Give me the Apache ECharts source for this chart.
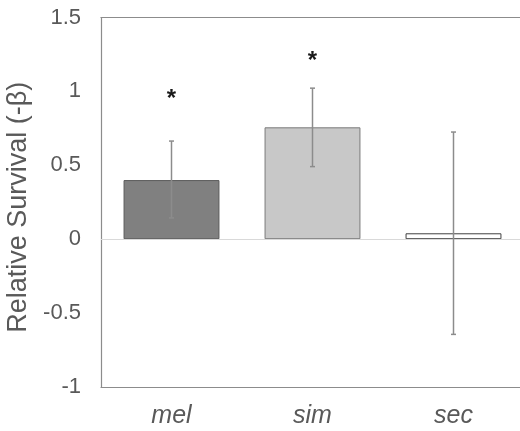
<!DOCTYPE html>
<html><head><meta charset="utf-8">
<script src="https://cdn.jsdelivr.net/npm/echarts@6/dist/echarts.min.js"></script>
<style>html,body{margin:0;padding:0;background:#fff;overflow:hidden}#c{width:520px;height:431px}</style>
</head><body><div id="c"></div>
<script>
var categories = ['mel', 'sim', 'sec'];
var values = [0.40, 0.757, 0.04];
var errLow = [0.144, 0.491, -0.644];
var errHigh = [0.664, 1.022, 0.725];
var starY = [0.97, 1.23, null];
var barColors = ['#808080', '#c8c8c8', '#ffffff'];
var barBorders = ['#5a5a5a', '#7a7a7a', '#404040'];
var yTicks = {min: -1, max: 1.5, interval: 0.5};

var chart = echarts.init(document.getElementById('c'));
var font = 'Liberation Sans, Arial, sans-serif';
var frame = {show: true, onZero: false, lineStyle: {color: '#8c8c8c', width: 1.2}};
chart.setOption({
  animation: false,
  grid: {left: 101, width: 423, top: 17.5, bottom: 44, containLabel: false, outerBoundsMode: 'none'},
  xAxis: [{
    type: 'category', data: categories, position: 'bottom',
    axisLine: frame,
    axisTick: {show: false},
    axisLabel: {fontFamily: font, fontSize: 25, fontStyle: 'italic', color: '#595959', margin: 17}
  }, {
    type: 'category', data: categories, position: 'top',
    axisLine: frame, axisTick: {show: false}, axisLabel: {show: false}
  }],
  yAxis: {
    type: 'value', min: yTicks.min, max: yTicks.max, interval: yTicks.interval,
    axisLine: frame, axisTick: {show: false}, splitLine: {show: false},
    axisLabel: {fontFamily: font, fontSize: 22, color: '#595959', margin: 20},
    name: 'Relative Survival (-\u03b2)', nameLocation: 'middle', nameGap: 57,
    nameTextStyle: {fontFamily: font, fontSize: 27, color: '#595959', padding: [0, 10, 0, 0]}
  },
  series: [
    {
      type: 'bar', barCategoryGap: '32%',
      data: values.map(function (v, i) {
        return {value: v, itemStyle: {color: barColors[i], borderColor: barBorders[i], borderWidth: 1}};
      }),
      markLine: {silent: true, symbol: 'none', label: {show: false},
        lineStyle: {color: '#d9d9d9', width: 1.2, type: 'solid'}, data: [{yAxis: 0}]},
      z: 2
    },
    {
      type: 'custom', z: 5,
      data: categories.map(function (c, i) { return [i, errLow[i], errHigh[i]]; }),
      renderItem: function (params, api) {
        var lo = api.coord([api.value(0), api.value(1)]);
        var hi = api.coord([api.value(0), api.value(2)]);
        var w = 2.5;
        var st = {stroke: '#8c8c8c', lineWidth: 1.5};
        return {type: 'group', children: [
          {type: 'line', shape: {x1: lo[0], y1: lo[1], x2: hi[0], y2: hi[1]}, style: st},
          {type: 'line', shape: {x1: lo[0] - w, y1: lo[1], x2: lo[0] + w, y2: lo[1]}, style: st},
          {type: 'line', shape: {x1: hi[0] - w, y1: hi[1], x2: hi[0] + w, y2: hi[1]}, style: st}
        ]};
      }
    },
    {
      type: 'custom', z: 6,
      data: categories.map(function (c, i) { return [i, starY[i]]; }).filter(function (d) { return d[1] != null; }),
      renderItem: function (params, api) {
        var p = api.coord([api.value(0), api.value(1)]);
        return {type: 'text', x: p[0], y: p[1] + 4, style: {text: '*', fontFamily: font, fontSize: 24, fontWeight: 'bold', fill: '#1a1a1a', textAlign: 'center', textVerticalAlign: 'middle'}};
      }
    }
  ]
});
</script></body></html>
